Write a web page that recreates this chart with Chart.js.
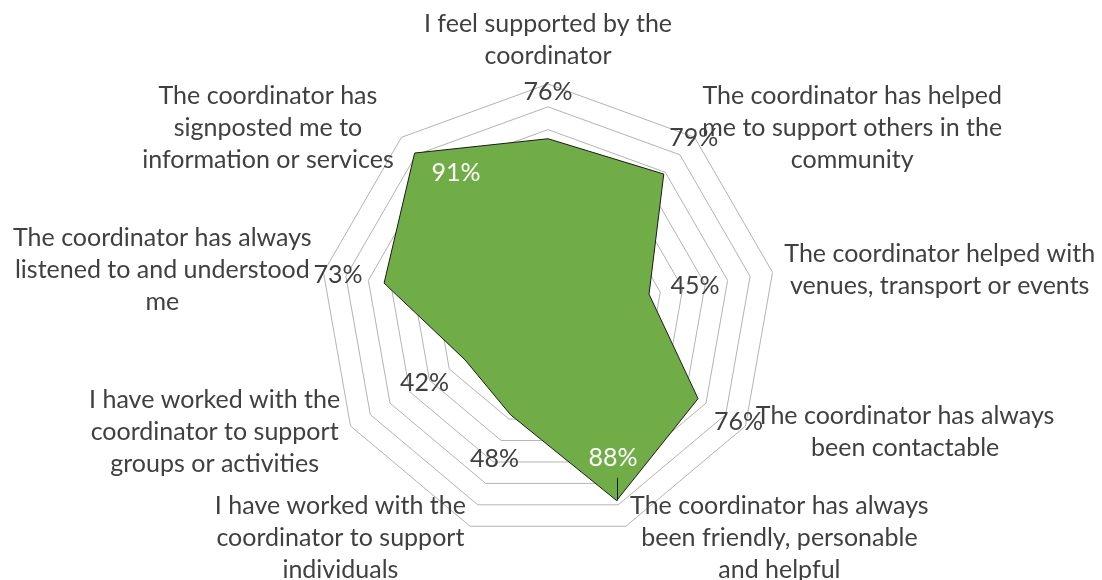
<!DOCTYPE html>
<html>
<head>
<meta charset="utf-8">
<script src="https://cdn.jsdelivr.net/npm/chart.js@4.4.1/dist/chart.umd.min.js"></script>
<style>
  html, body { margin: 0; padding: 0; background: #ffffff; }
  #wrap { width: 1102px; height: 580px; position: relative; }
</style>
</head>
<body>
<div id="wrap"><canvas id="chart"></canvas></div>
<script>
// ---- data ----
const categories = [
  ["I feel supported by the", "coordinator"],
  ["The coordinator has helped", "me to support others in the", "community"],
  ["The coordinator helped with", "venues, transport or events"],
  ["The coordinator has always", "been contactable"],
  ["The coordinator has always", "been friendly, personable", "and helpful"],
  ["I have worked with the", "coordinator to support", "individuals"],
  ["I have worked with the", "coordinator to support", "groups or activities"],
  ["The coordinator has always", "listened to and understood", "me"],
  ["The coordinator has", "signposted me to", "information or services"]
];
const values = [76, 79, 45, 76, 88, 48, 42, 73, 91];
const valueLabels = ["76%", "79%", "45%", "76%", "88%", "48%", "42%", "73%", "91%"];
const scaleMin = 0;
const scaleMax = 100;
const scaleStep = 10;

// ---- style ----
const FONT_FAMILY = "Lato, 'Open Sans', sans-serif";
const FONT_SIZE = 25;
const LINE_H = 32;
const TEXT_COLOR = "#404040";
const LABEL_GAP = 12;
// data label placement (in scale units / degrees), inside labels are white
const labelStyle = {
  outsideOffset: 20.5,
  insideOffset: -18,
  insideThreshold: 85,
  insideAngleShift: { 4: -4, 8: 6.5 },
  leaderFor: [4],
  leaderGap: 20
};

const excelLabels = {
  id: 'excelLabels',
  afterDatasetsDraw(chart) {
    const scale = chart.scales.r;
    const ctx = chart.ctx;
    ctx.save();
    ctx.font = FONT_SIZE + "px " + FONT_FAMILY;
    ctx.textBaseline = 'middle';
    ctx.textAlign = 'center';
    // category labels
    categories.forEach((lines, i) => {
      const p = scale.getPointPosition(i, scale.drawingArea + LABEL_GAP);
      const ang = Math.round(((scale.getIndexAngle(i) * 180 / Math.PI) % 360 + 360) % 360);
      const w = Math.max(...lines.map(l => ctx.measureText(l).width));
      let left;
      if (ang === 0 || ang === 180) left = p.x - w / 2;
      else if (ang < 180) left = p.x;
      else left = p.x - w;
      const n = lines.length;
      const firstY = (ang === 0) ? p.y - LINE_H * (n - 0.5) : p.y - LINE_H * (n - 1) / 2;
      ctx.fillStyle = TEXT_COLOR;
      lines.forEach((l, k) => ctx.fillText(l, left + w / 2, firstY + k * LINE_H));
    });
    // value labels
    values.forEach((v, i) => {
      const inside = v > labelStyle.insideThreshold;
      let p;
      if (inside) {
        const shift = (labelStyle.insideAngleShift[i] || 0) * Math.PI / 180;
        const dist = scale.getDistanceFromCenterForValue(v + labelStyle.insideOffset);
        p = scale.getPointPosition(i, dist, shift);
      } else {
        p = scale.getPointPositionForValue(i, v + labelStyle.outsideOffset);
      }
      if (labelStyle.leaderFor.includes(i)) {
        const pt = scale.getPointPositionForValue(i, v);
        ctx.strokeStyle = '#1a1a1a';
        ctx.lineWidth = 1;
        ctx.beginPath();
        ctx.moveTo(Math.round(pt.x) + 0.5, p.y + labelStyle.leaderGap);
        ctx.lineTo(Math.round(pt.x) + 0.5, pt.y);
        ctx.stroke();
      }
      ctx.fillStyle = inside ? "#ffffff" : TEXT_COLOR;
      ctx.fillText(valueLabels[i], p.x, p.y);
    });
    ctx.restore();
  }
};

new Chart(document.getElementById('chart'), {
  type: 'radar',
  data: {
    labels: categories,
    datasets: [{
      data: values,
      backgroundColor: '#70AD47',
      borderColor: '#1a1a1a',
      borderWidth: 1,
      pointRadius: 0,
      pointHoverRadius: 0,
      fill: true,
      tension: 0
    }]
  },
  options: {
    responsive: true,
    maintainAspectRatio: false,
    animation: false,
    layout: { padding: { left: 320, right: 326, top: 84, bottom: 40 } },
    plugins: { legend: { display: false }, tooltip: { enabled: false } },
    scales: {
      r: {
        min: scaleMin,
        max: scaleMax,
        ticks: { display: false, stepSize: scaleStep },
        grid: { circular: false, color: '#b3b3b3', lineWidth: 1 },
        angleLines: { display: false },
        pointLabels: { display: false }
      }
    }
  },
  plugins: [excelLabels]
});
</script>
</body>
</html>
